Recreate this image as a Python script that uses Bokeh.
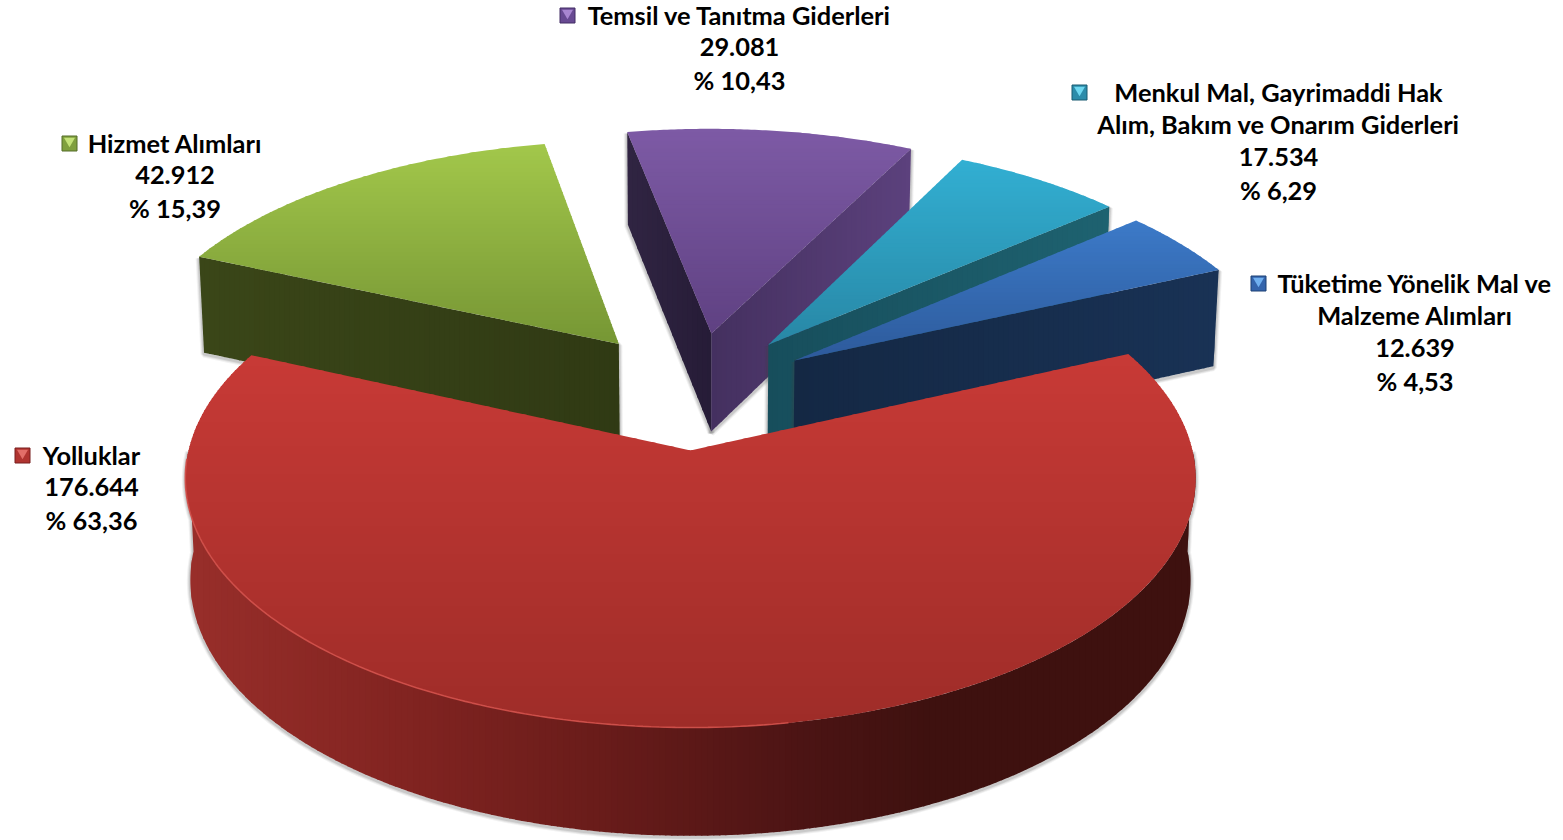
import numpy as np
from bokeh.plotting import figure
from bokeh.models import Range1d
from bokeh.core.properties import value
from bokeh.embed import file_html
from bokeh.resources import INLINE

# ---------- data ----------
categories = ["Yolluklar", "Hizmet Alımları", "Temsil ve Tanıtma Giderleri",
              "Menkul Mal, Gayrimaddi Hak\nAlım, Bakım ve Onarım Giderleri",
              "Tüketime Yönelik Mal ve\nMalzeme Alımları"]
values = [176644, 42912, 29081, 17534, 12639]
value_labels = ["176.644", "42.912", "29.081", "17.534", "12.639"]
percent_labels = ["% 63,36", "% 15,39", "% 10,43", "% 6,29", "% 4,53"]

# ---------- style / layout ----------
FONT = "Lato"
FSIZE = "25.4px"
START = 65.8           # clockwise degrees from the back of the pie
CX, CY, RX, RY, K = 690.0, 450.0, 502.0, 246.0, 0.112
BCY, BRX, BRY = 551.0, 497.0, 252.5
OFFSET = [(0, 0), (-0.150, 0.455), (0.044, 0.502), (0.163, 0.452), (0.216, 0.3815)]
RADIUS = [1.0, 1.01, 1.03, 1.02, 1.02]
TOP = [((353, (200, 58, 54)), (727, (158, 44, 40))),
       ((141, (163, 200, 75)), (344, (118, 150, 52))),
       ((130, (125, 90, 165)), (333, (95, 65, 130))),
       ((160, (50, 175, 210)), (345, (40, 135, 165))),
       ((221, (60, 122, 200)), (360, (45, 90, 155)))]
WALL_SIDE = [((190, (152, 46, 42)), (400, (130, 36, 33)), (600, (105, 28, 26)),
              (800, (76, 20, 20)), (930, (62, 17, 15)), (1190, (62, 17, 15)))]
LEFT_WALL = {1: ((199, (58, 70, 24)), (617, (48, 58, 20))),
             2: ((630, (48, 36, 66)), (709, (38, 28, 55)))}
RIGHT_WALL = {2: ((709, (68, 48, 95)), (911, (92, 65, 125))),
              3: ((767, (23, 78, 92)), (1110, (30, 98, 112))),
              4: ((793, (20, 40, 68)), (1218, (25, 50, 85)))}
LABEL_X = [91, 174.5, 739, 1278, 1414.5]
LABEL_Y = [454, 142, 14, 91, 282]
LINE_H = 32.7
MARK_XY = [(22, 455), (69, 143), (567, 15), (1079, 92), (1258, 283)]
MARK_COL = [((120, 30, 30), (176, 52, 48), (226, 110, 104)),
            ((84, 108, 40), (128, 160, 62), (196, 226, 120)),
            ((66, 44, 100), (104, 74, 146), (168, 134, 208)),
            ((24, 90, 112), (44, 140, 170), (110, 215, 240)),
            ((28, 64, 116), (52, 100, 172), (112, 176, 240))]


def top_pt(X, Y):
    w = 1 + K * Y
    return CX + RX * X / w, CY - RY * Y / w


def bot_pt(X, Y):
    w = 1 + K * Y
    return CX + BRX * X / w, BCY - BRY * Y / w


def arc(i, a0, a1, proj, n=80):
    th = np.radians(np.linspace(a0, a1, n))
    X = OFFSET[i][0] + RADIUS[i] * np.sin(th)
    Y = OFFSET[i][1] + RADIUS[i] * np.cos(th)
    return list(zip(*proj(X, Y)))


def clip(poly, axis, lim, keep_above):
    out = []
    inside = (lambda p: p[axis] >= lim) if keep_above else (lambda p: p[axis] <= lim)
    for j in range(len(poly)):
        a, b = poly[j], poly[(j + 1) % len(poly)]
        ia, ib = inside(a), inside(b)
        if ia:
            out.append(a)
        if ia != ib:
            t = (lim - a[axis]) / (b[axis] - a[axis])
            out.append((a[0] + t * (b[0] - a[0]), a[1] + t * (b[1] - a[1])))
    return out


def shade(stops, t):
    ps = [s[0] for s in stops]
    return "#%02x%02x%02x" % tuple(int(round(np.interp(t, ps, [s[1][c] for s in stops]))) for c in range(3))


def gradient(p, poly, axis, stops, step=5.0):
    vals = [q[axis] for q in poly]
    lo, hi = min(vals), max(vals)
    xs, ys, cols = [], [], []
    t = lo
    while t < hi:
        piece = clip(poly, axis, t, True)
        if piece:
            piece = clip(piece, axis, t + step + 1.0, False)
        if len(piece) > 2:
            xs.append([q[0] for q in piece])
            ys.append([q[1] for q in piece])
            cols.append(shade(stops, t + step / 2))
        t += step
    p.patches(xs, ys, fill_color=cols, line_color=None)


def shadow(p, poly):
    xs = [q[0] for q in poly] + [poly[0][0]]
    ys = [q[1] + 1.5 for q in poly] + [poly[0][1] + 1.5]
    for lw, al in ((7, 0.07), (5, 0.10), (3, 0.14)):
        p.line(xs, ys, line_color="#404040", line_alpha=al, line_width=lw)


p = figure(width=1563, height=840, output_backend="svg", toolbar_location=None,
           x_range=Range1d(0, 1563), y_range=Range1d(840, 0), min_border=0,
           background_fill_color="white", border_fill_color="white")
p.axis.visible = False
p.grid.visible = False
p.outline_line_color = None

# wedge angle spans come from the values
total = float(sum(values))
spans = [v / total * 360 for v in values]
angles = []
a = START
for s in spans:
    angles.append((a, a + s))
    a += s
angles = [angles[0]] + [(x - 360, y - 360) for x, y in angles[1:]]

# draw back slices in order, the big slice last
for i in (1, 2, 3, 4):
    a0, a1 = angles[i]
    apex_t = top_pt(*OFFSET[i])
    apex_b = bot_pt(*OFFSET[i])
    t0 = arc(i, a0, a0, top_pt, 1)[0]
    b0 = arc(i, a0, a0, bot_pt, 1)[0]
    t1 = arc(i, a1, a1, top_pt, 1)[0]
    b1 = arc(i, a1, a1, bot_pt, 1)[0]
    walls = []
    if i in LEFT_WALL:
        walls.append(([t0, apex_t, apex_b, b0], LEFT_WALL[i]))
    if i in RIGHT_WALL:
        walls.append(([apex_t, t1, b1, apex_b], RIGHT_WALL[i]))
    for poly, _ in walls:
        shadow(p, poly)
    for poly, st in walls:
        gradient(p, poly, 0, st)
    face = [apex_t] + arc(i, a0, a1, top_pt)
    gradient(p, face, 1, TOP[i], 4.0)

# big slice: outer wall, then top face, then rim light
a0, a1 = angles[0]
wall = arc(0, 90, 270, top_pt, 200) + arc(0, 270, 90, bot_pt, 200)
shadow(p, wall)
gradient(p, wall, 0, WALL_SIDE[0], 6.0)
face = [top_pt(*OFFSET[0])] + arc(0, a0, a1, top_pt, 240)
gradient(p, face, 1, TOP[0], 4.0)
rim = arc(0, 170, 268, top_pt, 120)
p.line([q[0] for q in rim], [q[1] for q in rim], line_color="#d2504a", line_width=1.6, line_alpha=0.9)

# labels and legend keys
for i, name in enumerate(categories):
    lines = name.split("\n") + [value_labels[i], percent_labels[i]]
    ys = [LABEL_Y[i] + LINE_H * j for j in range(len(lines))]
    p.text([LABEL_X[i]] * len(lines), ys, text=lines, text_font=value(FONT),
           text_font_size=FSIZE, text_font_style="bold", text_color="#000000",
           text_align="center", text_baseline="middle")
    mx, my = MARK_XY[i]
    dark, mid, light = ["#%02x%02x%02x" % c for c in MARK_COL[i]]
    p.scatter([mx], [my], marker="square", size=15, fill_color=mid, line_color=dark, line_width=1)
    p.scatter([mx], [my - 2.5], marker="inverted_triangle", size=11, fill_color=light, line_color=None)

open("out.html", "w").write(file_html(p, INLINE))
